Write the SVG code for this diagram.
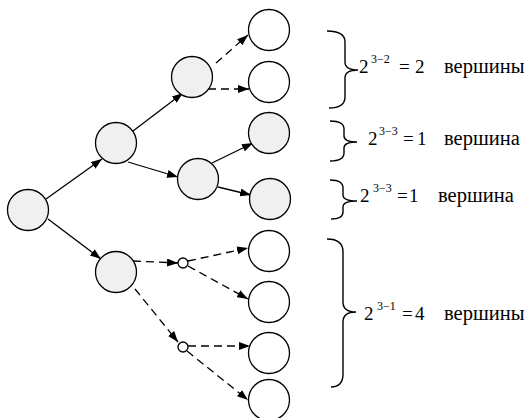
<svg xmlns="http://www.w3.org/2000/svg" width="528" height="418" viewBox="0 0 528 418">
<style>
.n{fill:#f0f0f0;stroke:#000;stroke-width:1.3}
.w{fill:#fff;stroke:#000;stroke-width:1.3}
.e{fill:none;stroke:#000;stroke-width:1.3;marker-end:url(#ah)}
.d{stroke-dasharray:8 5}
.b{fill:none;stroke:#000;stroke-width:1.4}
.t{font-family:'Liberation Serif','Times New Roman',serif;font-size:19px;fill:#000}
.s{font-size:12px}
.v{font-size:20.5px}
</style>
<defs>
<marker id="ah" markerWidth="11" markerHeight="8" refX="11" refY="4" orient="auto" markerUnits="userSpaceOnUse">
<path d="M0,0 L11,4 L0,8 z" fill="#000" stroke="none"/>
</marker>
</defs>
<g id="connectors">
<line class="e" x1="46" y1="199" x2="102" y2="159"/>
<line class="e" x1="133" y1="131" x2="183" y2="93"/>
<line class="e" x1="128" y1="162" x2="178" y2="177"/>
<line class="e d" x1="216" y1="63" x2="248" y2="35"/>
<line class="e d" x1="208" y1="89" x2="249" y2="89"/>
<line class="e" x1="212" y1="163" x2="253" y2="143"/>
<line class="e" x1="218" y1="187" x2="251" y2="195"/>
<line class="e" x1="48" y1="219" x2="101" y2="259"/>
<line class="e d" x1="133" y1="261" x2="178" y2="263"/>
<line class="e d" x1="188" y1="261" x2="248" y2="248"/>
<line class="e d" x1="188" y1="266" x2="248" y2="299"/>
<line class="e d" x1="135" y1="289" x2="178" y2="342"/>
<line class="e d" x1="188" y1="346" x2="250" y2="346"/>
<line class="e d" x1="187" y1="351" x2="248" y2="400"/>
</g>
<g id="root"><circle class="n" cx="28" cy="210" r="20.5"/></g>
<g id="b"><circle class="n" cx="116" cy="143" r="20.5"/></g>
<g id="a"><circle class="n" cx="192" cy="77" r="20.5"/></g>
<g id="c"><circle class="n" cx="198" cy="179" r="20.5"/></g>
<g id="d"><circle class="n" cx="116" cy="272" r="20.5"/></g>
<g id="s1"><circle class="w" cx="183" cy="263" r="5"/></g>
<g id="s2"><circle class="w" cx="183" cy="347" r="5"/></g>
<g id="l1"><circle class="w" cx="269" cy="30" r="20.5"/></g>
<g id="l2"><circle class="w" cx="269" cy="82" r="20.5"/></g>
<g id="l3"><circle class="n" cx="269" cy="133" r="20.5"/></g>
<g id="l4"><circle class="n" cx="270" cy="199" r="20.5"/></g>
<g id="l5"><circle class="w" cx="269" cy="251" r="20.5"/></g>
<g id="l6"><circle class="w" cx="269" cy="302" r="20.5"/></g>
<g id="l7"><circle class="w" cx="269" cy="353" r="20.5"/></g>
<g id="l8"><circle class="w" cx="269" cy="400" r="20.5"/></g>
<g id="brace1">
<path class="b" d="M327,31 Q345,31 345,42 L345,62 Q345,70 358,70 Q345,70 345,78 L345,97 Q345,108 329,108"/>
<text class="t"><tspan x="359" y="73">2</tspan><tspan class="s" x="371" y="63">3−2</tspan><tspan x="399" y="73">=</tspan><tspan x="415" y="73">2</tspan><tspan class="v" x="444" y="73">вершины</tspan></text>
</g>
<g id="brace2">
<path class="b" d="M330,121 Q344,121 344,129 L344,136 Q344,142 357,142 Q344,142 344,148 L344,153 Q344,161 330,161"/>
<text class="t"><tspan x="368" y="145">2</tspan><tspan class="s" x="379" y="135">3−3</tspan><tspan x="403" y="145">=</tspan><tspan x="417" y="145">1</tspan><tspan class="v" x="444" y="145">вершина</tspan></text>
</g>
<g id="brace3">
<path class="b" d="M330,180 Q343,180 343,188 L343,195 Q343,201 357,201 Q343,201 343,207 L343,212 Q343,219 331,219"/>
<text class="t"><tspan x="360" y="202">2</tspan><tspan class="s" x="373" y="192">3−3</tspan><tspan x="397" y="202">=</tspan><tspan x="409" y="202">1</tspan><tspan class="v" x="438" y="202">вершина</tspan></text>
</g>
<g id="brace4">
<path class="b" d="M327,239 Q343,239 343,252 L343,302 Q343,312 356,312 Q343,312 343,322 L343,374 Q343,387 331,387"/>
<text class="t"><tspan x="364" y="320">2</tspan><tspan class="s" x="377" y="310">3−1</tspan><tspan x="402" y="320">=</tspan><tspan x="415" y="320">4</tspan><tspan class="v" x="444" y="320">вершины</tspan></text>
</g>
</svg>
